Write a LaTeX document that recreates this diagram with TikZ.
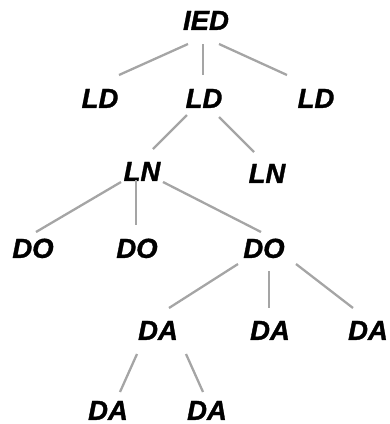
\documentclass[tikz,border=0pt]{standalone}
\usepackage{fontspec}
\newfontfamily\lblfont{Liberation Sans Bold Italic}[FakeBold=1.2]
\usetikzlibrary{calc}
\begin{document}
\begin{tikzpicture}[x=1pt,y=-1pt,
  lbl/.style={font=\fontsize{27.5}{32}\selectfont\lblfont,inner sep=0pt,text height=19.7pt,text depth=0pt},
  edge/.style={draw={rgb,255:red,165;green,165;blue,165},line width=2.3pt}]
\useasboundingbox (0,0) rectangle (390,424);
\node[lbl] (IED) at (206,20) {IED};
\node[lbl] (LD1) at (100,98) {LD};
\node[lbl] (LD2) at (204,98) {LD};
\node[lbl] (LD3) at (316,98) {LD};
\node[lbl] (LN1) at (142,171) {LN};
\node[lbl] (LN2) at (267,173) {LN};
\node[lbl] (DO1) at (33,248) {DO};
\node[lbl] (DO2) at (137,248) {DO};
\node[lbl] (DO3) at (264,248) {DO};
\node[lbl] (DA1) at (158,330) {DA};
\node[lbl] (DA2) at (270,330) {DA};
\node[lbl] (DA3) at (368,330) {DA};
\node[lbl] (DA4) at (108,410) {DA};
\node[lbl] (DA5) at (207,410) {DA};
\draw[edge] ($(IED)+(-18,24)$) -- ($(LD1)+(19,-23)$);
\draw[edge] ($(IED)+(-3,24)$) -- ($(LD2)+(-1,-23)$);
\draw[edge] ($(IED)+(13,24)$) -- ($(LD3)+(-29,-23)$);
\draw[edge] ($(LD2)+(-17,17)$) -- ($(LN1)+(11,-22)$);
\draw[edge] ($(LD2)+(15,19)$) -- ($(LN2)+(-13,-21)$);
\draw[edge] ($(LN1)+(-21,11)$) -- ($(DO1)+(3,-16)$);
\draw[edge] ($(LN1)+(-6,9)$) -- ($(DO2)+(-1,-23)$);
\draw[edge] ($(LN1)+(21,11)$) -- ($(DO3)+(-3,-16)$);
\draw[edge] ($(DO3)+(-26,16)$) -- ($(DA1)+(11,-22)$);
\draw[edge] ($(DO3)+(5,23)$) -- ($(DA2)+(-1,-22)$);
\draw[edge] ($(DO3)+(32,16)$) -- ($(DA3)+(-15,-22)$);
\draw[edge] ($(DA1)+(-21,24)$) -- ($(DA4)+(12,-18)$);
\draw[edge] ($(DA1)+(28,24)$) -- ($(DA5)+(-4,-18)$);
\end{tikzpicture}
\end{document}
